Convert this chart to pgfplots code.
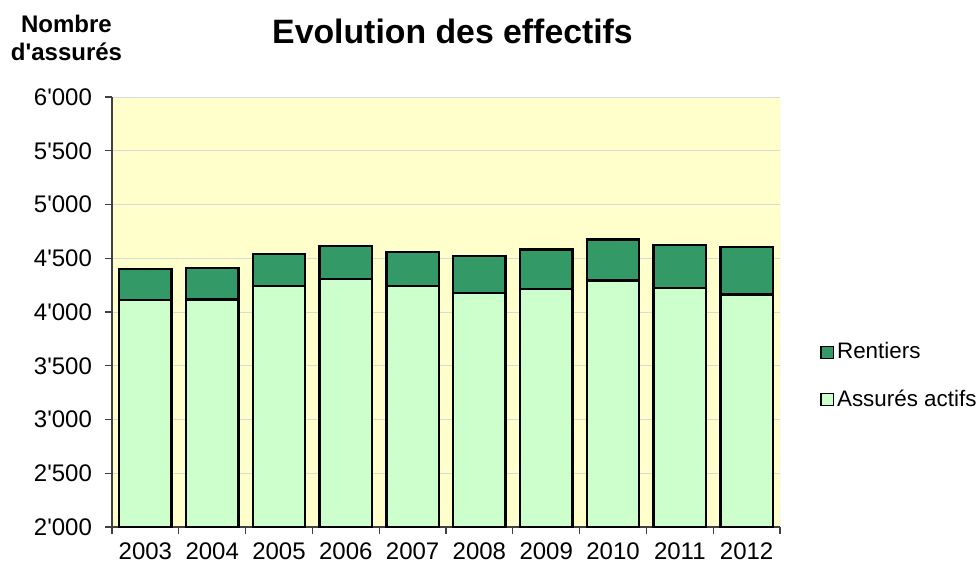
\documentclass[border=0pt]{standalone}
\usepackage{pgfplots}
\pgfplotsset{compat=1.18}
\usepackage{fontspec}
\setmainfont{Liberation Sans}
\definecolor{bgyellow}{HTML}{FFFFCC}
\definecolor{darkgreen}{HTML}{339966}
\definecolor{lightgreen}{HTML}{CCFFCC}
\begin{document}
\begin{tikzpicture}
\begin{axis}[
  name=main,
  width=334pt, height=215pt, scale only axis,
  ybar stacked, bar width=0.785,
  xmin=-0.5, xmax=9.5, ymin=2000, ymax=6000,
  ytick={2000,2500,...,6000},
  xtick={0,...,9},
  xticklabels={2003,2004,2005,2006,2007,2008,2009,2010,2011,2012},
  minor xtick={-0.5,0.5,...,9.5},
  major x tick style={draw=none},
  minor x tick style={draw=black!75, line width=0.6pt},
  y tick style={draw=black!75, line width=0.6pt},
  tick align=outside,
  major tick length=3.5pt, minor tick length=3.5pt,
  axis x line*=bottom, axis y line*=left,
  axis line style={draw=black!75, line width=0.7pt},
  axis background/.style={fill=bgyellow},
  ymajorgrids, grid style={draw=black!15, line width=0.5pt},
  scaled y ticks=false,
  /pgf/number format/.cd, 1000 sep={\textquotesingle}, assume math mode=true,
  /pgfplots/.cd,
  tick label style={font=\fontsize{12}{14}\selectfont, text=black},
  yticklabel style={xshift=-3pt},
  xticklabel style={yshift=-1pt},
  reverse legend,
  legend style={at={(1.06,0.351)}, anchor=west, draw=none, fill=none,
    font=\fontsize{11.2}{13}\selectfont, row sep=11pt, inner sep=0pt,
    nodes={inner sep=1.5pt}},
  legend cell align=left,
  legend image code/.code={\draw[#1, line width=0.6pt] (0pt,-3.1pt) rectangle (6.2pt,3.1pt);},
]
\addplot[fill=lightgreen, draw=black, line width=1.2pt] coordinates {
 (0,4114) (1,4115) (2,4243) (3,4305) (4,4243) (5,4176) (6,4213) (7,4293) (8,4222) (9,4163)};
\addlegendentry{Assurés actifs}
\addplot[fill=darkgreen, draw=black, line width=1.2pt] coordinates {
 (0,284) (1,296) (2,297) (3,309) (4,315) (5,345) (6,370) (7,383) (8,401) (9,444)};
\addlegendentry{Rentiers}
\draw[black!15, line width=0.5pt] (rel axis cs:1,0) -- (rel axis cs:1,1);
\end{axis}
\node[font=\bfseries\fontsize{16.9}{20}\selectfont, anchor=base] at ([xshift=3.25pt,yshift=27pt]main.north) {Evolution des effectifs};
\node[font=\bfseries\fontsize{12}{13.8}\selectfont, align=center] at ([xshift=-22.75pt,yshift=29.5pt]main.north west) {Nombre\\d\textquotesingle assurés};
\pgfresetboundingbox
\useasboundingbox ([xshift=-56pt,yshift=-17.5pt]main.south west) rectangle ([xshift=433pt,yshift=48.5pt]main.north west);
\end{tikzpicture}
\end{document}
